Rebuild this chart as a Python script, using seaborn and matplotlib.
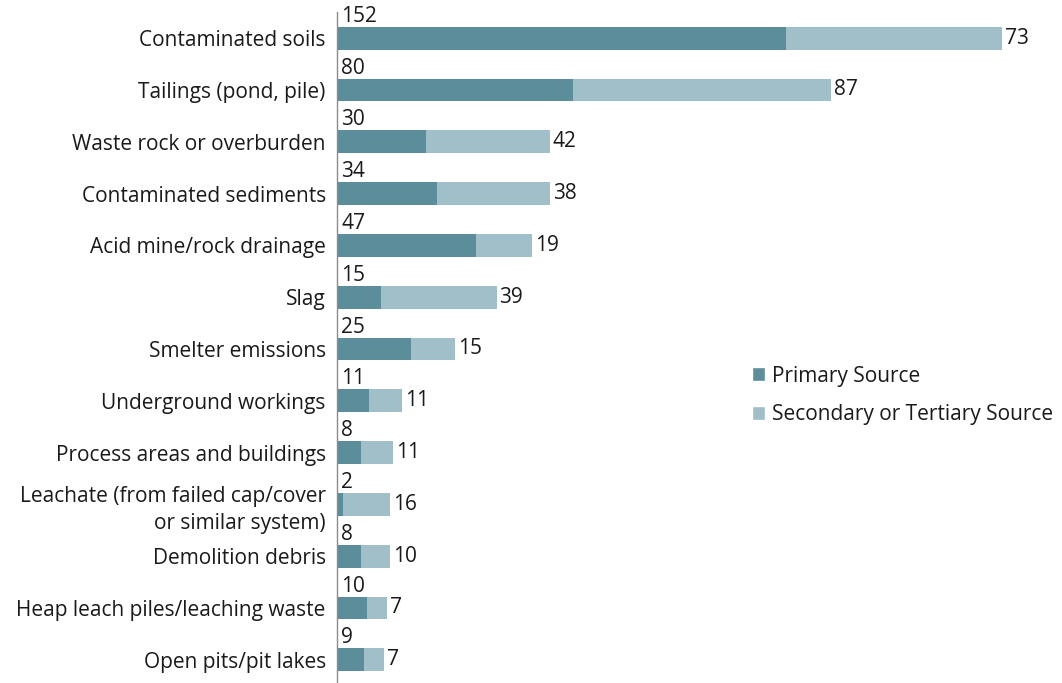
import matplotlib
matplotlib.use("Agg")
import matplotlib.pyplot as plt
import seaborn as sns
import pandas as pd
from matplotlib.patches import Patch

categories = [
    "Contaminated soils",
    "Tailings (pond, pile)",
    "Waste rock or overburden",
    "Contaminated sediments",
    "Acid mine/rock drainage",
    "Slag",
    "Smelter emissions",
    "Underground workings",
    "Process areas and buildings",
    "Leachate (from failed cap/cover\nor similar system)",
    "Demolition debris",
    "Heap leach piles/leaching waste",
    "Open pits/pit lakes",
]
primary = [152, 80, 30, 34, 47, 15, 25, 11, 8, 2, 8, 10, 9]
secondary = [73, 87, 42, 38, 19, 39, 15, 11, 11, 16, 10, 7, 7]

df = pd.DataFrame({"category": categories, "primary": primary, "secondary": secondary})
df["total"] = df["primary"] + df["secondary"]

PRIMARY_COLOR = "#5b8d9a"
SECONDARY_COLOR = "#a0bfc9"
TEXT_COLOR = "#1a1a1a"
FS = 15

sns.set_theme(style="white")
plt.rcParams["font.family"] = ["Open Sans", "DejaVu Sans"]

fig = plt.figure(figsize=(10.62, 6.83), dpi=100)
ax = fig.add_axes([0.3173, 0.0, 0.668, 0.982])

# stacked bars: full total in the light colour, primary drawn over it
sns.barplot(data=df, y="category", x="total", color=SECONDARY_COLOR,
            orient="h", width=0.44, saturation=1, linewidth=0, ax=ax)
sns.barplot(data=df, y="category", x="primary", color=PRIMARY_COLOR,
            orient="h", width=0.44, saturation=1, linewidth=0, ax=ax)

ax.set_xlim(0, 240)
ax.set_ylim(12.45, -0.5)
ax.set_xlabel("")
ax.set_ylabel("")
ax.set_xticks([])
ax.tick_params(axis="y", length=0, pad=8, labelsize=FS, labelcolor=TEXT_COLOR)
for lbl in ax.get_yticklabels():
    lbl.set_horizontalalignment("right")
    lbl.set_multialignment("right")
    lbl.set_linespacing(1.4)

for s in ["top", "right", "bottom"]:
    ax.spines[s].set_visible(False)
ax.spines["left"].set_color("#8c8c8c")
ax.spines["left"].set_linewidth(1.0)

for i, row in df.iterrows():
    ax.text(1.5, i - 0.22, str(row["primary"]), ha="left", va="bottom",
            fontsize=FS, color=TEXT_COLOR)
    ax.text(row["total"] + 1.0, i, str(row["secondary"]), ha="left", va="center",
            fontsize=FS, color=TEXT_COLOR)

handles = [Patch(facecolor=PRIMARY_COLOR, label="Primary Source"),
           Patch(facecolor=SECONDARY_COLOR, label="Secondary or Tertiary Source")]
fig.legend(handles=handles, loc="center left", bbox_to_anchor=(0.690, 0.421),
           frameon=False, fontsize=FS, handlelength=0.65, handleheight=0.65,
           handletextpad=0.35, labelspacing=0.85, labelcolor=TEXT_COLOR)

fig.savefig("out.png", dpi=100, facecolor="white")
